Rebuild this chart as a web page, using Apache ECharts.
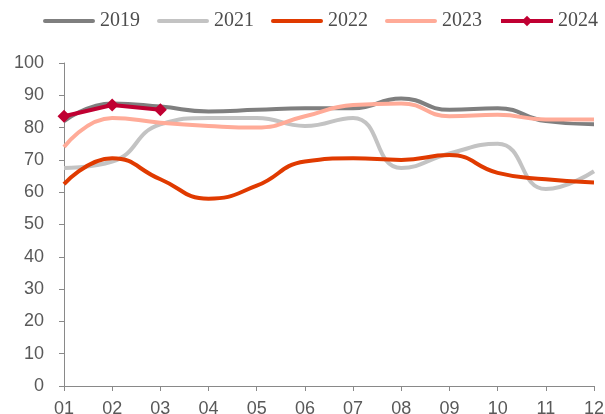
<!DOCTYPE html>
<html>
<head>
<meta charset="utf-8">
<script src="https://cdn.jsdelivr.net/npm/echarts@6/dist/echarts.min.js"></script>
<style>
  html, body { margin: 0; padding: 0; background: #fff; }
  #chart { width: 605px; height: 414px; }
</style>
</head>
<body>
<div id="chart"></div>
<script>
const months = ['01', '02', '03', '04', '05', '06', '07', '08', '09', '10', '11', '12'];
const y2019 = [82, 87.5, 86.5, 85, 85.5, 86, 86, 89, 85.5, 86, 82, 81];
const y2021 = [67.5, 69.5, 81, 83, 83, 80.5, 83, 67.5, 72, 75, 61, 66.5];
const y2022 = [62.5, 70.5, 64, 58, 62, 69.5, 70.5, 70, 71.5, 66, 64, 63];
const y2023 = [74, 83, 81.5, 80.5, 80, 83.5, 87, 87.5, 83.5, 84, 82.5, 82.5];
const y2024 = [83.5, 87, 85.5];

const axisColor = '#898989';
const textColor = '#595959';
const barIcon = 'path://M2,0 L50,0 A2,2 0 0 1 50,4 L2,4 A2,2 0 0 1 2,0 Z';

const lineSeries = (name, data, color, extra) => Object.assign({
  name: name,
  type: 'line',
  data: data,
  smooth: true,
  showSymbol: false,
  symbol: 'none',
  lineStyle: { color: color, width: 4 },
  itemStyle: { color: color },
}, extra || {});

const chart = echarts.init(document.getElementById('chart'));
chart.setOption({
  animation: false,
  legend: {
    top: 11,
    left: 43,
    width: 560,
    padding: 0,
    itemWidth: 52,
    itemHeight: 13,
    itemGap: 17,
    textStyle: { fontFamily: 'Liberation Serif', fontSize: 20, color: '#4d4d4d' },
    data: [
      { name: '2019', icon: barIcon },
      { name: '2021', icon: barIcon },
      { name: '2022', icon: barIcon },
      { name: '2023', icon: barIcon },
      { name: '2024', lineStyle: { width: 4 } },
    ],
  },
  grid: { left: 64, right: 11, top: 63, bottom: 28, containLabel: false, outerBoundsMode: 'none' },
  xAxis: {
    type: 'category',
    data: months,
    boundaryGap: false,
    axisLine: { lineStyle: { color: axisColor, width: 1 } },
    axisTick: { show: true, length: 5, alignWithLabel: true, lineStyle: { color: axisColor } },
    axisLabel: { color: textColor, fontFamily: 'Liberation Sans', fontSize: 18, margin: 14 },
  },
  yAxis: {
    type: 'value',
    min: 0,
    max: 100,
    interval: 10,
    splitLine: { show: false },
    axisLine: { show: true, lineStyle: { color: axisColor, width: 1 } },
    axisTick: { show: true, length: 5, lineStyle: { color: axisColor } },
    axisLabel: { color: textColor, fontFamily: 'Liberation Sans', fontSize: 18, margin: 20 },
  },
  series: [
    lineSeries('2019', y2019, '#7f7f7f'),
    lineSeries('2021', y2021, '#c3c3c3'),
    lineSeries('2022', y2022, '#e03a00'),
    lineSeries('2023', y2023, '#ffab98'),
    lineSeries('2024', y2024, '#c00032', {
      smooth: false,
      showSymbol: true,
      symbol: 'diamond',
      symbolSize: 13,
      z: 5,
    }),
  ],
});
</script>
</body>
</html>
